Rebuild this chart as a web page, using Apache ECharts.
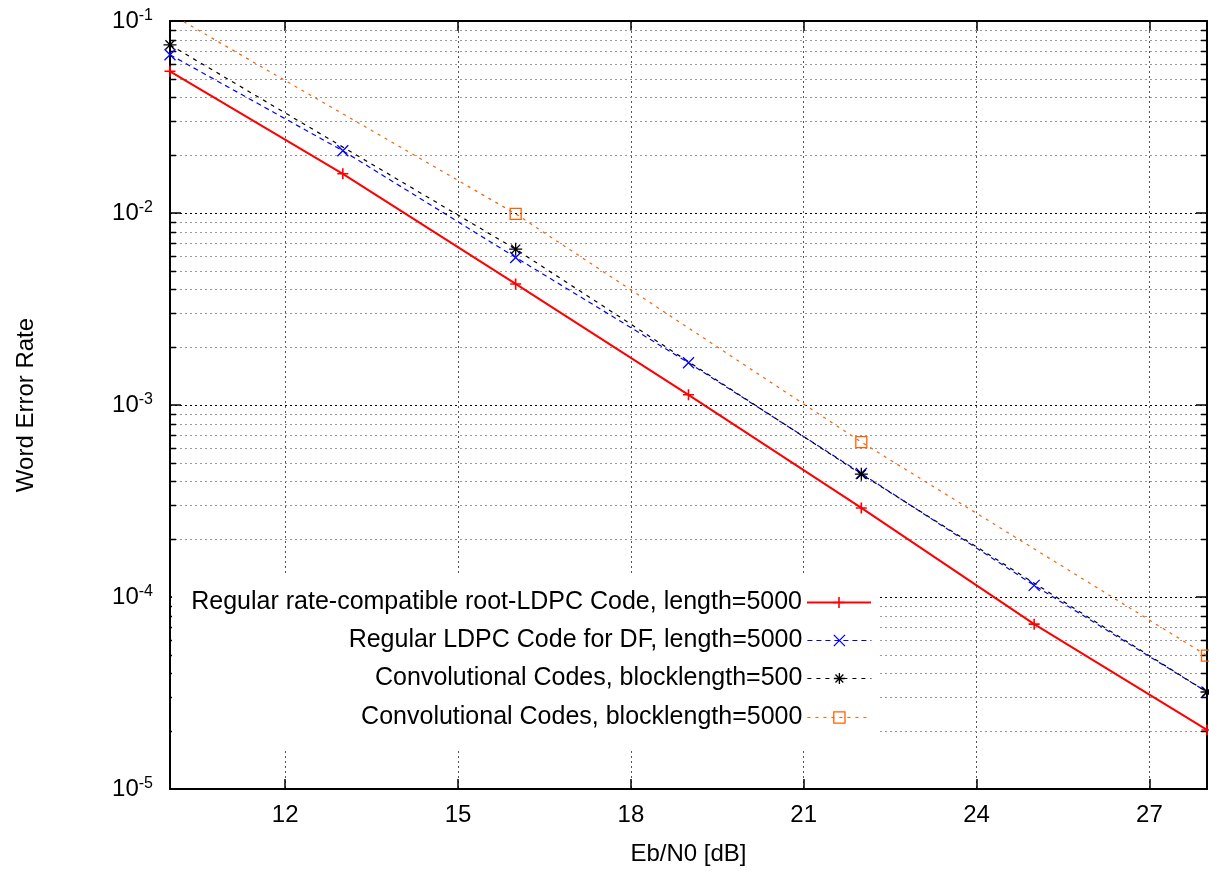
<!DOCTYPE html>
<html><head><meta charset="utf-8">
<script src="https://cdn.jsdelivr.net/npm/echarts@6/dist/echarts.min.js"></script>
<style>html,body{margin:0;padding:0;background:#fff}#c{width:1209px;height:871px}</style>
</head><body><div id="c"></div>
<script>
// ---- data ----
const seriesNames = [
  'Regular rate-compatible root-LDPC Code, length=5000',
  'Regular LDPC Code for DF, length=5000',
  'Convolutional Codes, blocklength=500',
  'Convolutional Codes, blocklength=5000'
];
const xRootLDPC = [10, 13, 16, 19, 22, 25, 28];
const werRootLDPC = [0.0547, 0.0160, 0.00427, 0.00113, 2.91e-4, 7.22e-5, 2.03e-5];
const xLDPCDF = [10, 13, 16, 19, 22, 25, 28];
const werLDPCDF = [0.0667, 0.0211, 0.00587, 0.00166, 4.40e-4, 1.15e-4, 3.20e-5];
const xConv500 = [10, 16, 22, 28];
const werConv500 = [0.0751, 0.00648, 4.36e-4, 3.20e-5];
const xConv5000 = [10, 16, 22, 28];
const werConv5000 = [0.109, 0.0099, 6.41e-4, 4.95e-5];
const xTickValues = [12, 15, 18, 21, 24, 27];
const yDecades = [1e-5, 1e-4, 1e-3, 1e-2, 1e-1];
const yMinorMultipliers = [2, 3, 4, 5, 6, 7, 8, 9];
const xMin = 10, xMax = 28;

// ---- build ----
const FONT = 'Liberation Sans, Arial, Helvetica, sans-serif';
const pairs = (xs, ys) => xs.map((x, i) => [x, ys[i]]);
const yMinorValues = [];
yDecades.slice(0, -1).forEach(d => yMinorMultipliers.forEach(m => yMinorValues.push(+(m * d).toPrecision(3))));

const SYM_PLUS = 'path://M0,5L10,5M5,0L5,10';
const SYM_CROSS = 'path://M0,0L10,10M0,10L10,0';
const SYM_STAR = 'path://M0,5L10,5M5,0L5,10M1.5,1.5L8.5,8.5M1.5,8.5L8.5,1.5';
const SYM_SQUARE = 'path://M0,0L10,0L10,10L0,10Z';

const styles = [
  {color: '#ff0000', width: 2, dash: 'solid', symbol: SYM_PLUS, bw: 1.6, size: 11},
  {color: '#0000ff', width: 1.2, dash: [5, 4], symbol: SYM_CROSS, bw: 1.3, size: 11},
  {color: '#000000', width: 1.2, dash: [4, 5], symbol: SYM_STAR, bw: 1.3, size: 13},
  {color: '#ff6000', width: 1.2, dash: [3, 5], symbol: SYM_SQUARE, bw: 1.3, size: 11}
];
const datas = [
  pairs(xRootLDPC, werRootLDPC),
  pairs(xLDPCDF, werLDPCDF),
  pairs(xConv500, werConv500),
  pairs(xConv5000, werConv5000)
];

const lineSeries = seriesNames.map((name, i) => ({
  name, type: 'line', data: datas[i], z: 3,
  symbol: styles[i].symbol, symbolSize: styles[i].size, showSymbol: true, clip: true,
  lineStyle: {color: styles[i].color, width: styles[i].width, type: styles[i].dash},
  itemStyle: {color: 'rgba(0,0,0,0)', borderColor: styles[i].color, borderWidth: styles[i].bw},
  emphasis: {disabled: true}, animation: false
}));

const minorSeries = {
  type: 'custom', silent: true, z: 1, animation: false,
  data: yMinorValues.map(v => [xMin, v]),
  renderItem(params, api) {
    const cs = params.coordSys;
    const y = Math.round(api.coord([xMin, api.value(1)])[1]) + 0.5;
    return {type: 'group', children: [
      {type: 'line', shape: {x1: cs.x, y1: y, x2: cs.x + cs.width, y2: y}, style: {stroke: '#9a9a9a', lineWidth: 1, lineDash: [2, 3]}},
      {type: 'line', shape: {x1: cs.x, y1: y, x2: cs.x + 6, y2: y}, style: {stroke: '#000', lineWidth: 1.5}},
      {type: 'line', shape: {x1: cs.x + cs.width - 6, y1: y, x2: cs.x + cs.width, y2: y}, style: {stroke: '#000', lineWidth: 1.5}}
    ]};
  }
};

const rowY = [601, 639, 677, 716];
const legends = seriesNames.map((n, i) => ({
  data: [n], orient: 'horizontal', right: 337, top: rowY[i] - 11, padding: 0,
  align: 'right', itemWidth: 64, itemHeight: 14, selectedMode: false, z: 20,
  textStyle: {fontSize: 25, color: '#000', fontFamily: FONT, lineHeight: 14},
  lineStyle: {width: styles[i].width},
  itemStyle: {borderWidth: styles[i].bw}
}));

const option = {
  backgroundColor: '#fff',
  animation: false,
  textStyle: {fontFamily: FONT},
  grid: {left: 170, right: 2, top: 21, bottom: 77, containLabel: false, show: false},
  legend: legends,
  graphic: {elements: [{type: 'rect', z: 10, silent: true, shape: {x: 172, y: 576, width: 706, height: 172}, style: {fill: '#fff'}}]},
  xAxis: [
    {type: 'value', min: xMin, max: xMax, position: 'bottom',
     name: 'Eb/N0 [dB]', nameLocation: 'middle', nameGap: 53,
     nameTextStyle: {fontSize: 24, color: '#000', fontFamily: FONT},
     axisLine: {show: true, onZero: false, lineStyle: {color: '#000', width: 2}},
     axisTick: {show: true, inside: true, length: 10, customValues: xTickValues, lineStyle: {color: '#000', width: 1.5}},
     axisLabel: {show: true, margin: 14, fontSize: 24, color: '#000', fontFamily: FONT, customValues: xTickValues},
     splitLine: {show: true, lineStyle: {color: '#555', width: 1, type: [2, 3]}}
    },
    {type: 'value', min: xMin, max: xMax, position: 'top',
     axisLine: {show: true, onZero: false, lineStyle: {color: '#000', width: 2}},
     axisTick: {show: true, inside: true, length: 10, customValues: xTickValues, lineStyle: {color: '#000', width: 1.5}},
     axisLabel: {show: false}, splitLine: {show: false}
    }
  ],
  yAxis: [
    {type: 'log', logBase: 10, min: yDecades[0], max: yDecades[yDecades.length - 1], position: 'left',
     name: 'Word Error Rate', nameLocation: 'middle', nameGap: 132, nameRotate: 90,
     nameTextStyle: {fontSize: 24, color: '#000', fontFamily: FONT},
     axisLine: {show: true, onZero: false, lineStyle: {color: '#000', width: 2}},
     axisTick: {show: true, inside: true, length: 11, lineStyle: {color: '#000', width: 1.5}},
     axisLabel: {
       show: true, margin: 17, fontFamily: FONT,
       formatter: v => '{b|10}{s|' + Math.round(Math.log10(v)) + '}',
       rich: {b: {fontSize: 24, color: '#000', fontFamily: FONT}, s: {fontSize: 16, color: '#000', fontFamily: FONT, verticalAlign: 'top', padding: [0, 0, 10, 0]}}
     },
     splitLine: {show: true, lineStyle: {color: '#000', width: 1, type: [2, 3]}}
    },
    {type: 'log', logBase: 10, min: yDecades[0], max: yDecades[yDecades.length - 1], position: 'right',
     axisLine: {show: true, onZero: false, lineStyle: {color: '#000', width: 2}},
     axisTick: {show: true, inside: true, length: 11, lineStyle: {color: '#000', width: 1.5}},
     axisLabel: {show: false}, splitLine: {show: false}
    }
  ],
  series: [minorSeries, ...lineSeries]
};

const chart = echarts.init(document.getElementById('c'), null, {renderer: 'canvas'});
chart.setOption(option);
</script></body></html>
